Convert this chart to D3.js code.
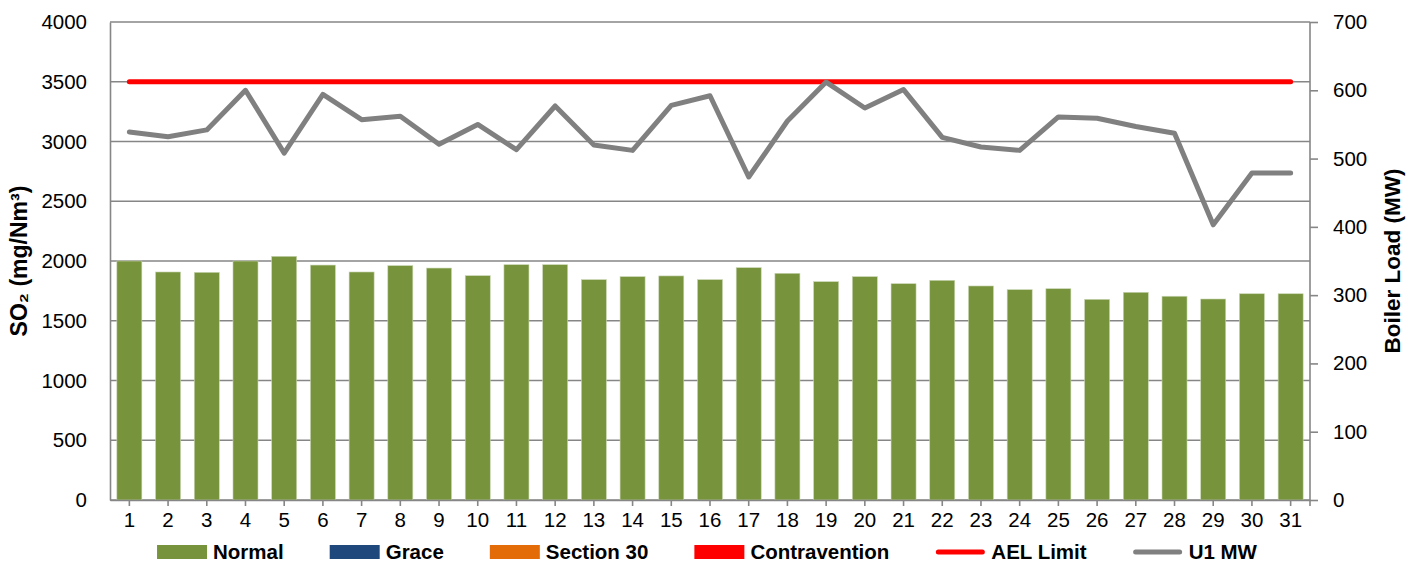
<!DOCTYPE html>
<html>
<head>
<meta charset="utf-8">
<script src="https://cdn.jsdelivr.net/npm/d3@7"></script>
<style>
  html, body { margin: 0; padding: 0; background: #ffffff; }
  svg { display: block; }
  text { font-family: "Liberation Sans", Arial, sans-serif; fill: #000; }
</style>
</head>
<body>
<svg id="chart" width="1422" height="565"></svg>
<script>
// Daily values for the month
const days = d3.range(1, 32);
const so2Normal = [2000, 1908, 1905, 2000, 2039, 1966, 1908, 1961, 1941, 1877,
                   1969, 1969, 1844, 1869, 1875, 1844, 1944, 1897, 1827, 1869,
                   1810, 1838, 1791, 1760, 1768, 1679, 1738, 1705, 1682, 1726, 1726];
const aelLimit = 3500;
const u1MW = [539, 532, 542, 600, 508, 594, 557, 562, 521, 550,
              513, 577, 520, 512, 578, 592, 473, 555, 612, 574,
              601, 531, 517, 512, 561, 559, 547, 537, 403, 479, 479];
const leftTicks = [0, 500, 1000, 1500, 2000, 2500, 3000, 3500, 4000];
const rightTicks = [0, 100, 200, 300, 400, 500, 600, 700];
const legendItems = [
  { name: "Normal", kind: "rect", color: "#77933C" },
  { name: "Grace", kind: "rect", color: "#1F497D" },
  { name: "Section 30", kind: "rect", color: "#E36C09" },
  { name: "Contravention", kind: "rect", color: "#FF0000" },
  { name: "AEL Limit", kind: "line", color: "#FF0000" },
  { name: "U1 MW", kind: "line", color: "#808080" }
];

const svg = d3.select("#chart");
const plot = { left: 110, right: 1310, top: 22, bottom: 500 };
const axisColor = "#868686";
const labelFont = "Liberation Sans, Arial, sans-serif";

const x = d3.scaleBand()
  .domain(days)
  .range([plot.left, plot.right])
  .paddingInner(0.354)
  .paddingOuter(0.177);
const cx = d => x(d) + x.bandwidth() / 2;

const yL = d3.scaleLinear().domain([0, 4000]).range([plot.bottom, plot.top]);
const yR = d3.scaleLinear().domain([0, 700]).range([plot.bottom, plot.top]);

// Horizontal gridlines on the left scale
svg.append("g")
  .selectAll("line")
  .data(leftTicks)
  .join("line")
  .attr("x1", plot.left).attr("x2", plot.right)
  .attr("y1", d => yL(d)).attr("y2", d => yL(d))
  .attr("stroke", axisColor).attr("stroke-width", 1.6);

// Bars (Normal)
svg.append("g")
  .selectAll("rect")
  .data(days)
  .join("rect")
  .attr("x", d => x(d))
  .attr("width", x.bandwidth())
  .attr("y", (d, i) => yL(so2Normal[i]))
  .attr("height", (d, i) => yL(0) - yL(so2Normal[i]))
  .attr("fill", "#77933C")
  .attr("stroke", "#c9d6b3")
  .attr("stroke-width", 0.6);

// Left axis (no tick marks, labels only)
const leftAxis = svg.append("g")
  .attr("transform", `translate(${plot.left},0)`)
  .call(d3.axisLeft(yL).tickValues(leftTicks).tickFormat(d3.format("d"))
    .tickSize(0).tickPadding(23));
leftAxis.select(".domain").attr("stroke", axisColor).attr("stroke-width", 1.6);
leftAxis.selectAll("text")
  .attr("font-size", 20.5)
  .attr("font-family", labelFont)
  .attr("fill", "#000");

// Right axis with outward tick marks
const rightAxis = svg.append("g")
  .attr("transform", `translate(${plot.right},0)`)
  .call(d3.axisRight(yR).tickValues(rightTicks).tickFormat(d3.format("d"))
    .tickSize(8).tickPadding(15));
rightAxis.select(".domain").attr("stroke", axisColor).attr("stroke-width", 1.6)
  .attr("d", `M0,${plot.top}V${plot.bottom + 6}`);
rightAxis.selectAll(".tick line").attr("stroke", axisColor).attr("stroke-width", 1.6);
rightAxis.selectAll("text")
  .attr("font-size", 20.5)
  .attr("font-family", labelFont)
  .attr("fill", "#000");

// Bottom category axis
const bottomAxis = svg.append("g")
  .attr("transform", `translate(0,${plot.bottom})`)
  .call(d3.axisBottom(x).tickSize(6).tickPadding(6).tickSizeOuter(0));
bottomAxis.select(".domain").attr("stroke", axisColor).attr("stroke-width", 1.6);
bottomAxis.selectAll(".tick line").attr("stroke", axisColor).attr("stroke-width", 1.6);
bottomAxis.selectAll("text")
  .attr("font-size", 20.5)
  .attr("font-family", labelFont)
  .attr("fill", "#000");

// AEL limit line
svg.append("path")
  .datum(days)
  .attr("d", d3.line().x(d => cx(d)).y(() => yL(aelLimit)))
  .attr("fill", "none")
  .attr("stroke", "#FF0000")
  .attr("stroke-width", 5)
  .attr("stroke-linecap", "round");

// Unit 1 load line
svg.append("path")
  .datum(days)
  .attr("d", d3.line().x(d => cx(d)).y((d, i) => yR(u1MW[i])))
  .attr("fill", "none")
  .attr("stroke", "#808080")
  .attr("stroke-width", 5)
  .attr("stroke-linejoin", "round")
  .attr("stroke-linecap", "round");

// Axis titles
const midY = (plot.top + plot.bottom) / 2;
svg.append("text")
  .attr("transform", `translate(27,${midY}) rotate(-90)`)
  .attr("text-anchor", "middle")
  .attr("font-size", 23)
  .attr("font-weight", "bold")
  .text("SO₂ (mg/Nm³)");
svg.append("text")
  .attr("transform", `translate(1400,${midY}) rotate(-90)`)
  .attr("text-anchor", "middle")
  .attr("font-size", 22.5)
  .attr("font-weight", "bold")
  .text("Boiler Load (MW)");

// Legend, laid out left to right and centred under the plot
const legend = svg.append("g");
const swatchW = 50, textGap = 6, itemGap = 46, legendY = 552;
let cursor = 0;
legendItems.forEach(item => {
  const g = legend.append("g").attr("transform", `translate(${cursor},0)`);
  if (item.kind === "rect") {
    g.append("rect")
      .attr("x", 0).attr("y", legendY - 7)
      .attr("width", swatchW).attr("height", 14)
      .attr("fill", item.color);
  } else {
    g.append("line")
      .attr("x1", 3).attr("x2", swatchW - 3)
      .attr("y1", legendY).attr("y2", legendY)
      .attr("stroke", item.color).attr("stroke-width", 5)
      .attr("stroke-linecap", "round");
  }
  const t = g.append("text")
    .attr("x", swatchW + textGap)
    .attr("y", legendY + 7)
    .attr("font-size", 20.5)
    .attr("font-weight", "bold")
    .text(item.name);
  cursor += swatchW + textGap + t.node().getComputedTextLength() + itemGap;
});
const legendWidth = cursor - itemGap;
legend.attr("transform", `translate(${707 - legendWidth / 2},0)`);
</script>
</body>
</html>
